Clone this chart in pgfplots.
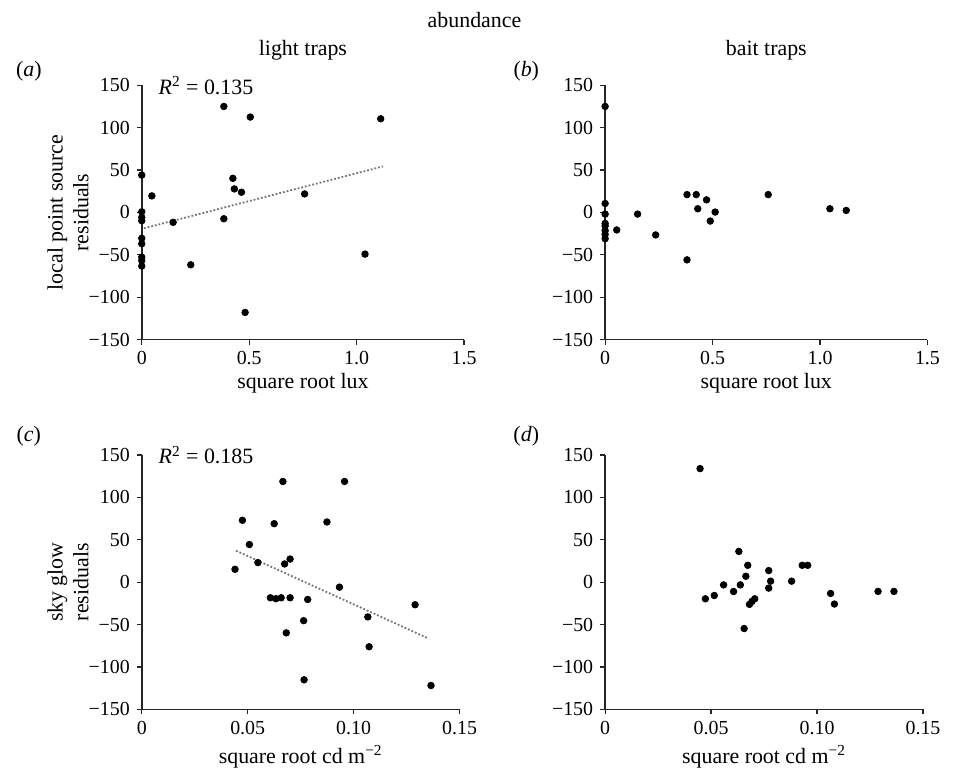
\documentclass[border=0pt]{standalone}
\usepackage{pgfplots}
\pgfplotsset{compat=1.18}
\usepackage{fontspec}
\setmainfont{Liberation Serif}
\begin{document}
\pgfplotsset{
  resid/.style={
    scale only axis,
    axis lines=left,
    axis line style={-, line width=0.75pt, black!85},
    tick style={black!85, line width=0.6pt},
    tick align=outside,
    major tick length=2.5pt,
    clip=false,
    ymin=-150, ymax=150,
    ytick={-150,-100,-50,0,50,100,150},
    yticklabels={−150,−100,−50,0,50,100,150},
    /pgf/number format/assume math mode=true,
    tick label style={font=\fontsize{10}{12}\selectfont},
    label style={font=\fontsize{11}{13}\selectfont},
    title style={font=\fontsize{11}{13}\selectfont, at={(axis description cs:0.5,1.147)}, anchor=center, yshift=-7pt},
    xlabel style={at={(axis description cs:0.5,-0.17)}, anchor=center},
    ylabel style={at={(axis description cs:-0.229,0.5)}, anchor=center, align=center},
  },
  pts/.style={only marks, mark=*, mark size=1.65pt, black, mark options={fill=black}},
  trend/.style={no marks, densely dotted, black!55, line width=0.9pt},
}
\begin{tikzpicture}
\path (0pt,0pt) rectangle (478pt,-391.5pt);
\node[font=\fontsize{11}{13}\selectfont] at (236pt,-10pt) {abundance};
\node[font=\fontsize{11}{13}\selectfont] at (12pt,-36pt) {(\textit{a})};
\node[font=\fontsize{11}{13}\selectfont] at (262pt,-36pt) {(\textit{b})};
\node[font=\fontsize{11}{13}\selectfont] at (12pt,-219pt) {(\textit{c})};
\node[font=\fontsize{11}{13}\selectfont] at (262pt,-219pt) {(\textit{d})};

% (a)
\begin{axis}[resid, at={(68.75pt,-170.65pt)}, anchor=south west, width=162pt, height=127.8pt,
  xmin=0, xmax=1.5, xtick={0,0.5,1,1.5}, xticklabels={0,0.5,1.0,1.5},
  title={light traps}, xlabel={square root lux}, ylabel={local point source\\residuals}]
\addplot[pts] coordinates {
(0.382,125) (0.505,112.5) (1.112,110.5) (0,44) (0.047,19.5) (0.424,40.2) (0.431,27.7)
(0.464,23.8) (0.758,21.8) (0,0.7) (0,-5.9) (0,-9.8) (0.146,-11.7) (0.382,-7.5)
(0,-30.5) (0,-37) (0,-52.8) (0,-56.7) (0,-63.3) (0.228,-61.8) (1.039,-49.2) (0.481,-118)
};
\addplot[trend] coordinates {(0.01,-18.8) (1.123,54.3)};
\node[anchor=west, font=\fontsize{11}{13}\selectfont] at (rel axis cs:0,1) [xshift=5pt] {\textit{R}\textsuperscript{2} = 0.135};
\end{axis}

% (b)
\begin{axis}[resid, at={(301.65pt,-170.65pt)}, anchor=south west, width=162pt, height=127.8pt,
  xmin=0, xmax=1.5, xtick={0,0.5,1,1.5}, xticklabels={0,0.5,1.0,1.5},
  title={bait traps}, xlabel={square root lux}]
\addplot[pts] coordinates {
(0,125) (0,10.5) (0,-2) (0,-13) (0,-16) (0,-21.5) (0,-26) (0,-31)
(0.054,-20.7) (0.151,-2) (0.235,-26.6) (0.381,21) (0.424,21) (0.431,4.3) (0.472,14.8)
(0.489,-10.2) (0.512,0.4) (0.381,-56) (0.759,21) (1.046,4.3) (1.122,2.3)
};
\end{axis}

% (c)
\begin{axis}[resid, at={(68.75pt,-356.5pt)}, anchor=south west, width=159.75pt, height=127.8pt,
  xmin=0, xmax=0.15, xtick={0,0.05,0.1,0.15}, xticklabels={0,0.05,0.10,0.15},
  xlabel={square root cd m\textsuperscript{−2}}, ylabel={sky glow\\residuals},
  xlabel style={at={(axis description cs:0.5,-0.185)}},
  ylabel style={at={(axis description cs:-0.232,0.5)}}]
\addplot[pts] coordinates {
(0.0666,118.8) (0.0957,118.8) (0.0475,73) (0.0625,69) (0.0874,71) (0.0508,44.4)
(0.0548,23.1) (0.0440,15.2) (0.0674,21.5) (0.0700,27.3) (0.0607,-18.4) (0.0633,-19.5)
(0.0658,-18.4) (0.0700,-18.4) (0.0783,-20.4) (0.0933,-5.9) (0.0764,-45.4) (0.0682,-59.8)
(0.1067,-41) (0.1073,-76.2) (0.0766,-115.2) (0.1290,-26.6) (0.1365,-121.9)
};
\addplot[trend] coordinates {(0.0445,37.1) (0.1353,-66.4)};
\node[anchor=west, font=\fontsize{11}{13}\selectfont] at (rel axis cs:0,1) [xshift=5pt] {\textit{R}\textsuperscript{2} = 0.185};
\end{axis}

% (d)
\begin{axis}[resid, at={(301.65pt,-356.5pt)}, anchor=south west, width=159.75pt, height=127.8pt,
  xmin=0, xmax=0.15, xtick={0,0.05,0.1,0.15}, xticklabels={0,0.05,0.10,0.15},
  xlabel={square root cd m\textsuperscript{−2}},
  xlabel style={at={(axis description cs:0.5,-0.185)}}]
\addplot[pts] coordinates {
(0.0448,134) (0.0631,36.3) (0.0673,19.9) (0.0664,7) (0.0559,-3.2) (0.0638,-3.2)
(0.0606,-11) (0.0473,-19.6) (0.0515,-15.7) (0.0681,-26.2) (0.0693,-22.7) (0.0706,-19.6)
(0.0656,-54.7) (0.0772,13.7) (0.0781,1.2) (0.0772,-7) (0.0880,1.2) (0.0930,19.9)
(0.0956,19.9) (0.1064,-13.3) (0.1082,-25.8) (0.1288,-10.9) (0.1363,-10.9)
};
\end{axis}
\end{tikzpicture}
\end{document}
